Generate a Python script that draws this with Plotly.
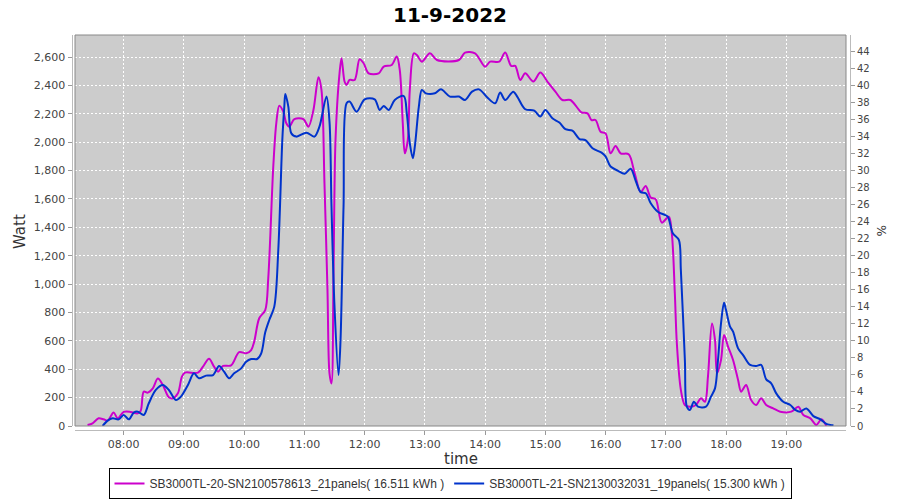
import plotly.graph_objects as go

DATE = "2022-09-11 "

m_times = ["07:24","07:29","07:35","07:40","07:44","07:50","07:54","08:00","08:07","08:14","08:17","08:20",
           "08:24","08:29","08:34","08:39","08:45","08:49","08:54","08:58","09:01","09:14","09:19","09:25",
           "09:30","09:34","09:39","09:47","09:55","10:02","10:07","10:10","10:15","10:21","10:24","10:29",
           "10:32","10:35","10:39","10:42","10:45","10:50","10:59","11:04","11:09","11:14","11:17","11:20",
           "11:23","11:25","11:27","11:29","11:31","11:35","11:37","11:40","11:42","11:45","11:50","11:55",
           "11:59","12:04","12:14","12:19","12:27","12:32","12:35","12:38","12:40","12:43","12:45","12:49",
           "12:52","12:57","13:05","13:12","13:34","13:40","13:50","14:00","14:05","14:14","14:20","14:26",
           "14:30","14:35","14:40","14:48","14:55","15:02","15:10","15:17","15:25","15:36","15:42","15:46",
           "15:50","15:55","16:00","16:05","16:10","16:15","16:23","16:29","16:35","16:40","16:45","16:50",
           "16:56","17:03","17:06","17:09","17:11","17:15","17:19","17:24","17:30","17:35","17:39","17:42",
           "17:46","17:49","17:51","17:55","17:58","18:02","18:07","18:12","18:15","18:20","18:25","18:30",
           "18:35","18:40","18:47","18:54","19:05","19:12","19:17","19:24","19:30","19:35","19:40"]
m_watt = [7,19,54,47,38,96,54,99,99,89,108,242,
          235,265,334,289,202,195,230,348,376,376,418,474,
          418,383,423,427,521,512,535,594,759,817,1040,1827,
          2133,2257,2215,2133,2109,2163,2163,2109,2227,2457,2368,1710,
          958,371,300,1075,2015,2485,2591,2427,2403,2438,2438,2584,
          2556,2485,2485,2532,2544,2603,2509,2133,1921,2015,2368,2626,
          2614,2567,2626,2579,2579,2631,2626,2532,2567,2567,2631,2537,
          2537,2438,2485,2427,2490,2427,2356,2297,2297,2210,2203,2156,
          2156,2074,2062,1921,1973,1921,1915,1780,1648,1691,1610,1597,
          1433,1475,1358,935,583,254,148,136,148,195,171,348,
          723,606,371,465,641,559,465,324,242,289,183,148,
          195,148,124,101,101,136,78,54,7,47,0]

b_times = ["07:39","07:44","07:49","07:55","08:00","08:05","08:10","08:14","08:20","08:25","08:32","08:39",
           "08:45","08:52","08:57","09:04","09:10","09:15","09:22","09:29","09:35","09:40","09:45","09:50",
           "09:57","10:02","10:07","10:13","10:17","10:21","10:25","10:30","10:34","10:38","10:40","10:41",
           "10:44","10:47","10:52","11:02","11:10","11:15","11:22","11:25","11:27","11:30","11:34","11:36",
           "11:39","11:42","11:45","11:52","12:00","12:10","12:15","12:19","12:24","12:30","12:39","12:42",
           "12:45","12:48","12:50","12:54","12:57","13:01","13:10","13:16","13:25","13:34","13:40","13:47",
           "13:54","14:02","14:10","14:15","14:20","14:28","14:32","14:40","14:49","14:55","15:00","15:07",
           "15:14","15:20","15:27","15:34","15:40","15:47","15:56","16:00","16:05","16:12","16:19","16:25",
           "16:30","16:35","16:40","16:45","16:52","16:59","17:02","17:07","17:13","17:15","17:19","17:21",
           "17:24","17:28","17:32","17:40","17:45","17:49","17:52","17:55","17:58","18:00","18:04","18:07",
           "18:12","18:17","18:24","18:30","18:35","18:40","18:45","18:50","18:57","19:04","19:09","19:14",
           "19:20","19:27","19:34","19:39","19:44","19:47"]
b_watt = [0,38,54,47,78,47,94,101,78,160,254,289,
          254,183,207,289,371,336,355,359,423,383,336,371,
          406,453,472,472,512,660,747,841,1240,2015,2250,2340,
          2250,2062,2039,2067,2039,2109,2321,2145,1546,841,359,606,
          1546,2274,2286,2215,2302,2302,2227,2255,2227,2297,2325,2203,
          1992,1886,1968,2250,2368,2344,2344,2372,2321,2321,2297,2356,
          2372,2316,2274,2349,2297,2356,2321,2232,2222,2180,2227,2168,
          2138,2091,2081,2022,2015,1957,1926,1900,1828,1800,1778,1812,
          1728,1648,1640,1569,1510,1487,1475,1358,1311,1099,465,136,
          113,171,136,136,207,265,465,723,869,817,700,665,
          547,500,430,423,430,329,301,230,171,148,113,101,
          124,70,47,19,7,5]

m_name = "SB3000TL-20-SN2100578613_21panels( 16.511 kWh )"
b_name = "SB3000TL-21-SN2130032031_19panels( 15.300 kWh )"
title_text = "11-9-2022"

W, H = 900, 500
PL, PR, PT, PB = 75, 846, 35, 426  # plot area in px

def fx(px):
    return px / W

def fy(py):
    return 1 - py / H

fig = go.Figure()
fig.add_trace(go.Scatter(x=[DATE + t for t in m_times], y=m_watt, name=m_name, mode="lines",
                         line=dict(color="#CC00CC", width=2, shape="spline", smoothing=0.9)))
fig.add_trace(go.Scatter(x=[DATE + t for t in b_times], y=b_watt, name=b_name, mode="lines",
                         line=dict(color="#0033CC", width=2, shape="spline", smoothing=0.9)))
fig.add_trace(go.Scatter(x=[], y=[], yaxis="y2", showlegend=False, hoverinfo="skip"))

tickfont = dict(family="DejaVu Sans", size=11, color="#444444")
grid = dict(showgrid=True, gridcolor="#FFFFFF", gridwidth=1, griddash="2px,2px")

fig.update_layout(
    template="none",
    width=W, height=H,
    margin=dict(l=0, r=0, t=0, b=0, pad=0),
    paper_bgcolor="#FFFFFF",
    plot_bgcolor="#CCCCCC",
    title=dict(text=title_text, x=0.5, xanchor="center", y=fy(15), yanchor="middle",
               font=dict(family="DejaVu Sans", size=20, color="#000000", weight="bold")),
    xaxis=dict(type="date", domain=[fx(PL), fx(PR)], anchor="free", position=fy(429.5),
               range=[DATE + "07:11:30", DATE + "19:59:30"], tick0=DATE + "08:00", dtick=3600000,
               tickformat="%H:%M", ticks="outside", ticklen=4, tickcolor="#999999",
               showline=True, linecolor="#BBBBBB", linewidth=1, tickfont=tickfont,
               zeroline=False, automargin=False, **grid),
    yaxis=dict(domain=[fy(PB), fy(PT)], anchor="free", position=fx(71.5), range=[0, 2755],
               dtick=200, tickformat=",d", ticks="outside", ticklen=4, tickcolor="#999999",
               showline=True, linecolor="#BBBBBB", linewidth=1, tickfont=tickfont,
               zeroline=False, automargin=False, **grid),
    yaxis2=dict(overlaying="y", side="right", anchor="free", position=fx(850), range=[0, 45.9],
                dtick=2, ticks="outside", ticklen=4, tickcolor="#999999", showgrid=False,
                showline=True, linecolor="#BBBBBB", linewidth=1, automargin=False,
                tickfont=dict(family="DejaVu Sans", size=10, color="#444444"), zeroline=False),
    showlegend=True,
    legend=dict(orientation="h", x=0.5, xanchor="center", y=fy(499), yanchor="bottom",
                bordercolor="#000000", borderwidth=1, bgcolor="#FFFFFF",
                font=dict(family="Liberation Sans", size=12, color="#333333"),
                itemwidth=30, tracegroupgap=0),
    shapes=[dict(type="rect", xref="paper", yref="paper", x0=fx(PL), x1=fx(PR), y0=fy(PB), y1=fy(PT),
                 line=dict(color="#888888", width=1), fillcolor="rgba(0,0,0,0)", layer="above")],
    annotations=[
        dict(text="Watt", xref="paper", yref="paper", x=fx(20), y=fy(232), showarrow=False,
             textangle=-90, font=dict(family="DejaVu Sans", size=15, color="#333333"),
             xanchor="center", yanchor="middle"),
        dict(text="time", xref="paper", yref="paper", x=fx(461), y=fy(459), showarrow=False,
             font=dict(family="DejaVu Sans", size=15, color="#333333"),
             xanchor="center", yanchor="middle"),
        dict(text="%", xref="paper", yref="paper", x=fx(881), y=fy(230), showarrow=False,
             textangle=90, font=dict(family="DejaVu Sans", size=12, color="#333333"),
             xanchor="center", yanchor="middle"),
    ],
)

fig.write_html("out.html", config={"displayModeBar": False},
               post_script="document.body.style.margin='0px';")
